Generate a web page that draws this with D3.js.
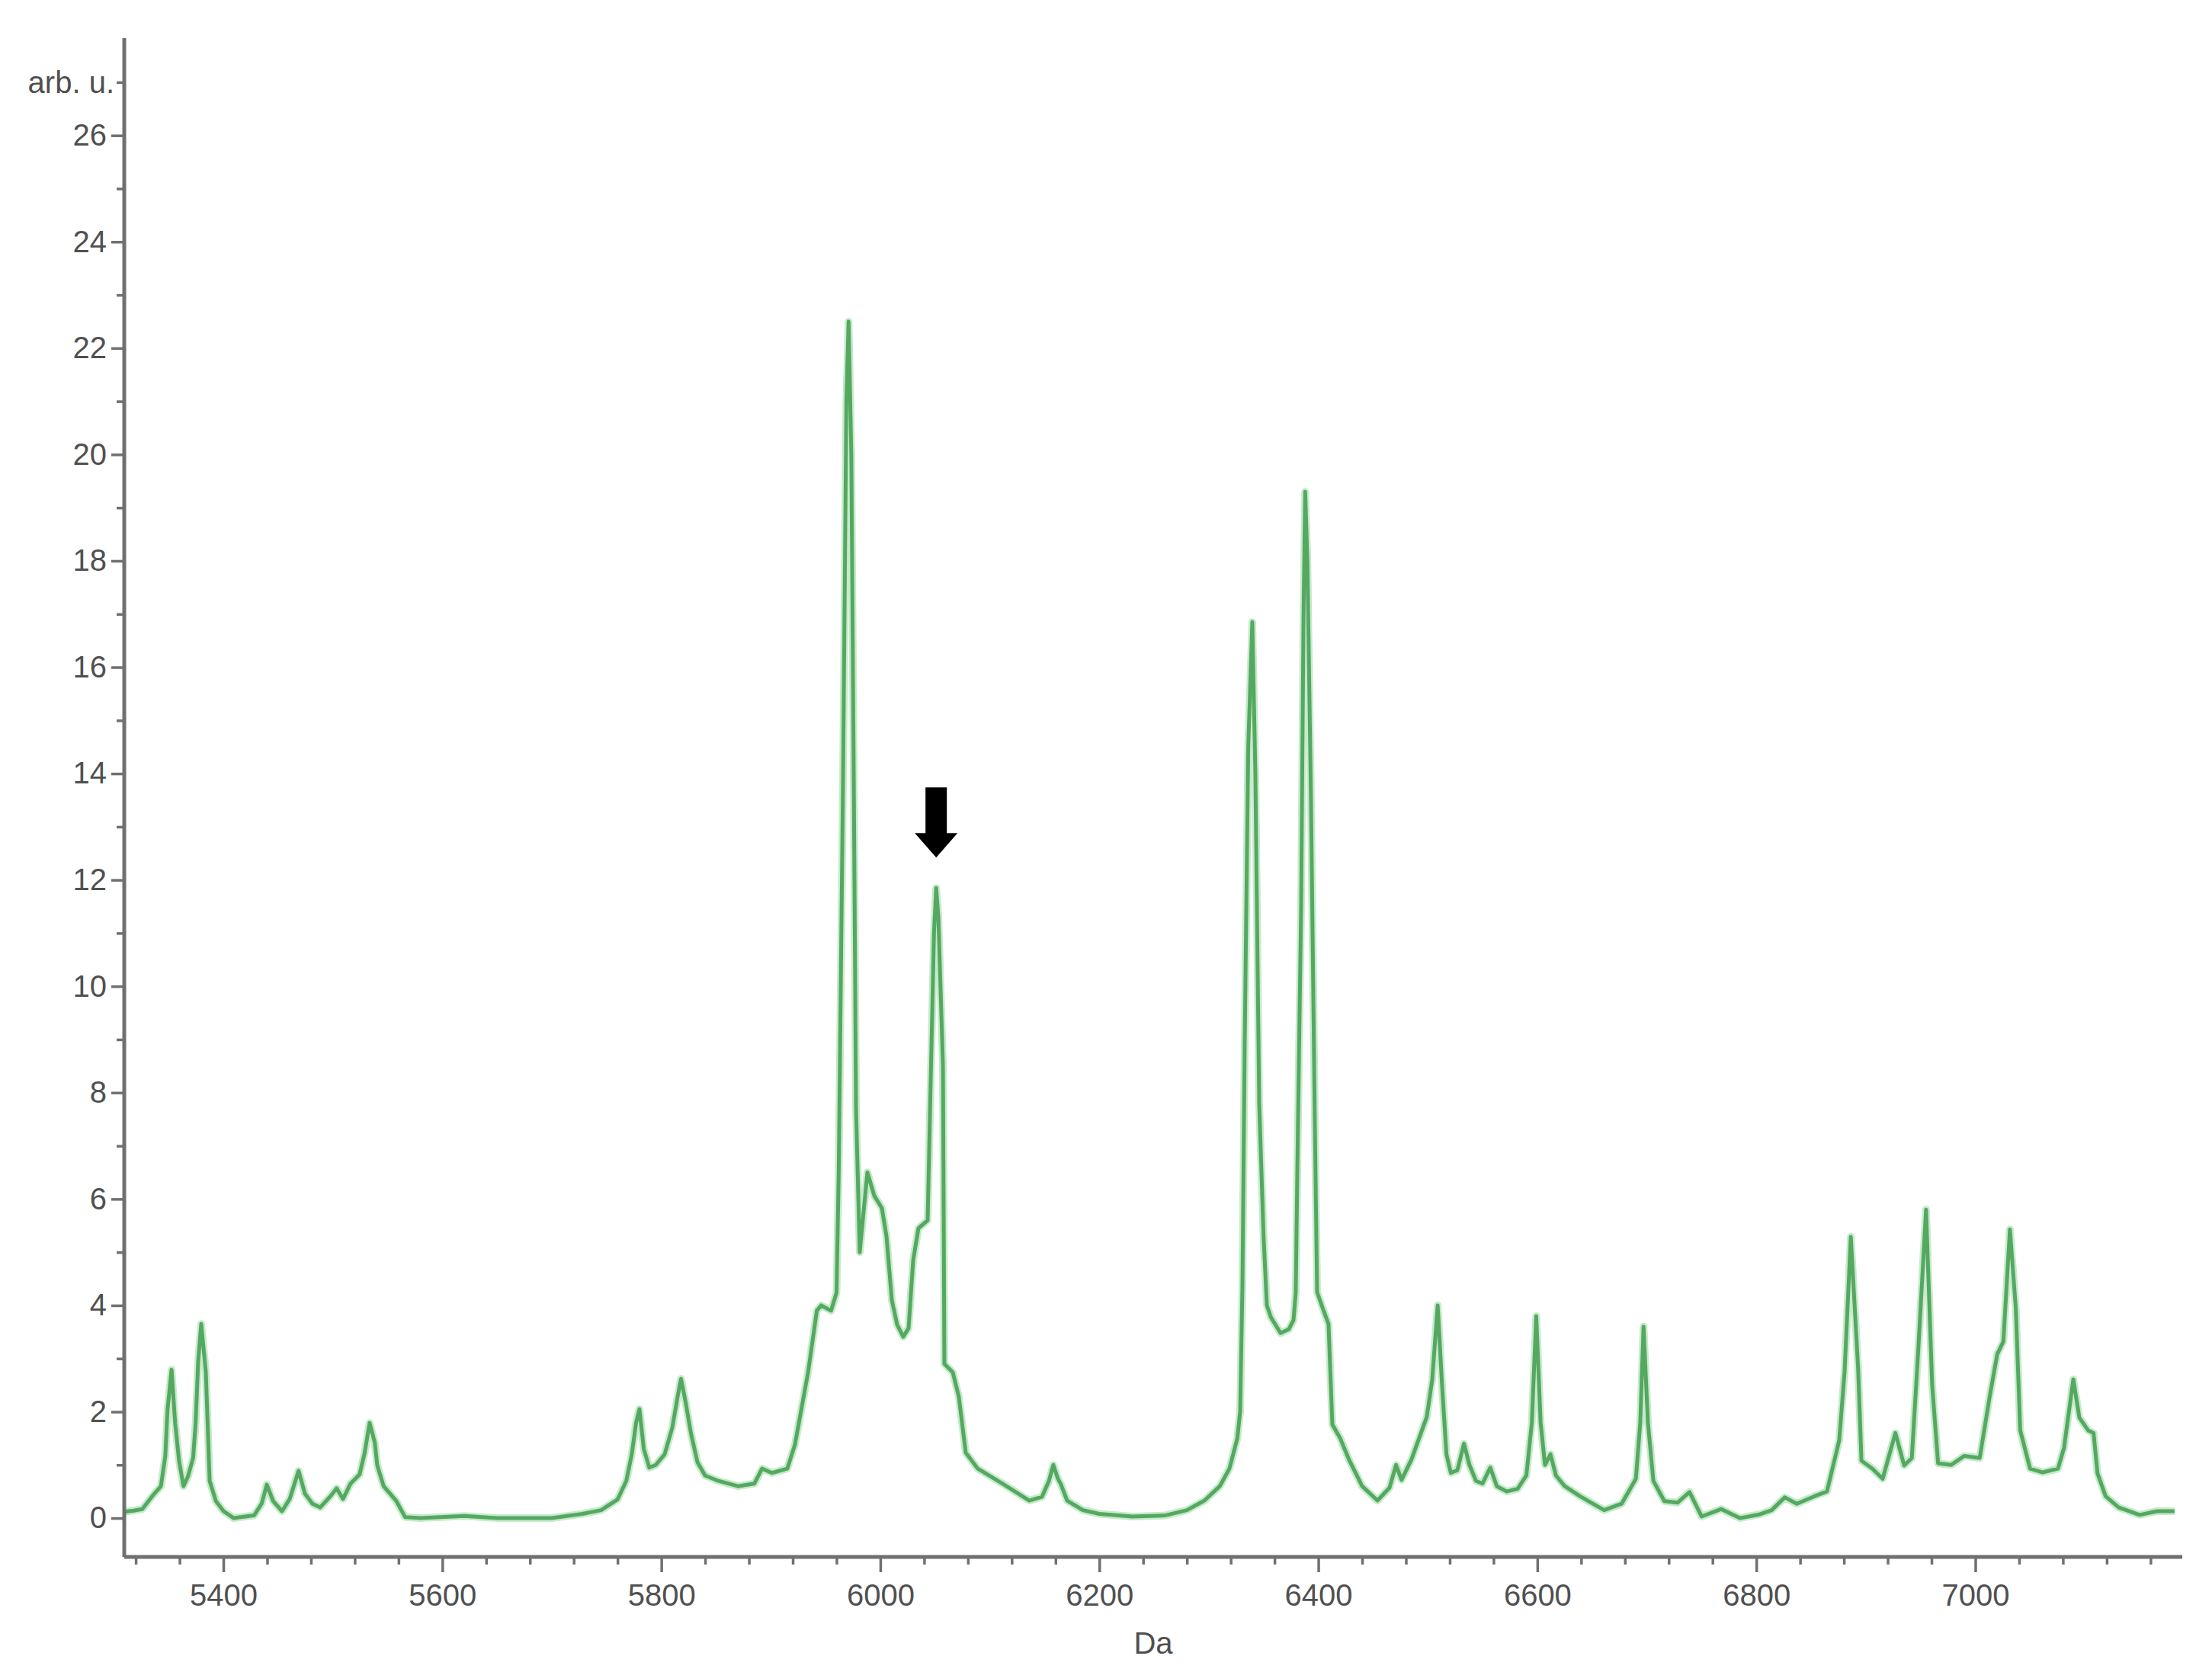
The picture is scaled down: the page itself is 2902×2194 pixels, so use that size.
<!DOCTYPE html>
<html>
<head>
<meta charset="utf-8">
<script src="https://cdn.jsdelivr.net/npm/d3@7/dist/d3.min.js"></script>
<style>
  html, body { margin: 0; padding: 0; background: #ffffff; }
  svg { display: block; }
  text { font-family: "Liberation Sans", Arial, sans-serif; }
</style>
</head>
<body>
<svg id="chart" width="2902" height="2194"></svg>
<script>
// ---- data ----
const massDa = [
  5309.5,5318,5326,5335,5343,5347,5349,5352.7,5356,5359.6,5363.6,5367.8,5372.4,5374.7,5377,5379.8,5384,5387.5,5393.2,5400.2,
  5409.5,5428,5435,5439.7,5445.5,5453.6,5460.6,5468.7,5474.5,5481.4,5488.4,5497.7,5503.5,5509.3,5516.2,5524.4,5529,5533.6,5538.3,5540.6,
  5546.4,5558,5566,5580,5620,5650,5700,5728,5745,5760,5768,5773,5777,5780,5784,5789,5795,5803,5810,5815,
  5818,5822,5827,5833,5840,5852,5870,5885,5892,5901,5915,5922,5934,5942,5946,5955,5960,5962,5966,5969,
  5971,5973.5,5975.7,5977.8,5981.2,5984.7,5988.2,5994.5,6001.4,6005.6,6010.5,6015.3,6020.9,6025.8,6030,6034.8,6043.2,6045.3,6049,6051,
  6053,6057.2,6058.5,6066.2,6071.7,6078,6089,6113,6136,6147.6,6154,6158,6162,6165,6170.6,6185,6200,6230,6260,6280,
  6296,6310,6318.8,6326,6328.6,6330.7,6332.8,6336,6339.7,6342.5,6346,6350,6353,6356.6,6365.5,6373,6377.3,6379.4,6380.8,6384.3,
  6386.5,6388,6390,6393.3,6396.8,6398.9,6403.8,6409.3,6412.8,6420,6428,6440,6454,6465,6471,6476,6485,6492,6499,6504,6509,
  6513,6517,6521,6527,6533,6538,6544,6550,6557,6563,6572,6582,6590,6595,6599,6603,6607,6612,6617,6625,
  6639,6661,6677,6690,6694,6697,6701,6706,6716,6728,6739,6750,6768,6785,6803,6814,6826,6837,6853,6864.5,
  6875.7,6880.6,6886.3,6893,6896,6906,6915.4,6927,6935,6942,6948,6955,6960.6,6966,6978,6990,7004,7013,7020,7025.6,
  7031.6,7037,7041,7050,7061.5,7075.5,7081,7089.5,7095,7103,7108,7111.6,7119,7131,7150,7166,7182
];
const intensity = [
  0.12,0.14,0.17,0.41,0.6,1.17,2.03,2.79,1.79,1.07,0.6,0.79,1.13,1.79,2.94,3.65,2.75,0.7,0.32,0.13,
  0.0,0.05,0.27,0.63,0.32,0.13,0.36,0.89,0.46,0.27,0.2,0.41,0.56,0.36,0.65,0.82,1.22,1.79,1.42,0.99,
  0.6,0.32,0.02,0.0,0.04,0.0,0.0,0.08,0.15,0.35,0.7,1.2,1.8,2.05,1.3,0.95,1.0,1.2,1.7,2.3,
  2.62,2.2,1.6,1.05,0.8,0.7,0.6,0.65,0.93,0.85,0.93,1.38,2.74,3.9,4.0,3.9,4.24,6.5,14,21,
  22.5,20,14,7.7,5.0,5.76,6.5,6.06,5.83,5.3,4.1,3.64,3.41,3.57,4.85,5.45,5.6,7.56,11.0,11.85,
  11.3,8.5,2.9,2.74,2.28,1.23,0.93,0.63,0.33,0.4,0.7,1.0,0.75,0.63,0.33,0.15,0.08,0.03,0.05,0.15,
  0.33,0.6,0.93,1.5,2.0,4.37,9.0,14.5,16.85,14,7.8,5.3,4.0,3.78,3.48,3.55,3.72,4.25,6.5,11.5,
  17,19.3,18,13.5,7.46,4.25,3.96,3.65,1.76,1.5,1.1,0.6,0.33,0.57,1.0,0.72,1.1,1.5,1.9,2.6,4.0,
  2.5,1.2,0.85,0.9,1.4,1.0,0.7,0.65,0.95,0.6,0.5,0.55,0.8,1.8,3.8,1.8,1.0,1.2,0.8,0.6,
  0.41,0.15,0.27,0.74,1.8,3.6,1.8,0.7,0.32,0.29,0.49,0.03,0.17,0.0,0.07,0.15,0.39,0.27,0.41,0.5,
  1.46,2.75,5.29,2.8,1.08,0.93,0.74,1.6,0.99,1.13,3.2,5.8,2.5,1.03,1.0,1.17,1.13,2.27,3.08,3.32,
  5.43,3.94,1.65,0.93,0.86,0.93,1.32,2.61,1.89,1.65,1.6,0.84,0.41,0.2,0.06,0.13,0.13
];
const xDomain = [5309.5, 7189];
const yDomain = [-0.73, 27.83];
const xMajorTicks = [5400, 5600, 5800, 6000, 6200, 6400, 6600, 6800, 7000];
const xMinorTicks = d3.range(5320, 7189, 40);
const yMajorTicks = [0, 2, 4, 6, 8, 10, 12, 14, 16, 18, 20, 22, 24, 26];
const yMinorTicks = d3.range(0, 28, 1);
const xLabel = "Da";
const yLabel = "arb. u.";
const arrowPeakDa = 6051;
const arrowTipValue = 12.42;

// ---- drawing ----
const svg = d3.select("#chart");
const x = d3.scaleLinear().domain(xDomain).range([163, 2863]);
const y = d3.scaleLinear().domain(yDomain).range([2043, 50]);

const axisColor = "#707070";
const textColor = "#505050";

const points = massDa.map((d, i) => [d, intensity[i]]);
const line = d3.line().x(d => x(d[0])).y(d => y(d[1]));

// spectrum: soft halo + main stroke
svg.append("path").datum(points)
  .attr("d", line).attr("fill", "none")
  .attr("stroke", "#c6ebca").attr("stroke-width", 10)
  .attr("stroke-linejoin", "round");
svg.append("path").datum(points)
  .attr("d", line).attr("fill", "none")
  .attr("stroke", "#55a862").attr("stroke-width", 5)
  .attr("stroke-linejoin", "round");

// x axis
const xAxisY = y(yDomain[0]);
const gxMinor = svg.append("g").attr("transform", `translate(0,${xAxisY})`)
  .call(d3.axisBottom(x).tickValues(xMinorTicks.filter(v => !xMajorTicks.includes(v))).tickSize(10).tickFormat(""));
const gx = svg.append("g").attr("transform", `translate(0,${xAxisY})`)
  .call(d3.axisBottom(x).tickValues(xMajorTicks).tickSize(20).tickPadding(16).tickFormat(d3.format("d")));
[gxMinor, gx].forEach(g => {
  g.select(".domain").remove();
  g.selectAll(".tick line").attr("stroke", axisColor).attr("stroke-width", 3.5);
});
gx.selectAll(".tick text").attr("fill", textColor).attr("font-size", 40)
  .attr("font-family", "'Liberation Sans', Arial, sans-serif");
svg.append("line")
  .attr("x1", x(xDomain[0])).attr("x2", x(xDomain[1]))
  .attr("y1", xAxisY).attr("y2", xAxisY)
  .attr("stroke", axisColor).attr("stroke-width", 5);

// y axis
const yAxisX = x(xDomain[0]);
const gyMinor = svg.append("g").attr("transform", `translate(${yAxisX},0)`)
  .call(d3.axisLeft(y).tickValues(yMinorTicks.filter(v => !yMajorTicks.includes(v))).tickSize(10).tickFormat(""));
const gy = svg.append("g").attr("transform", `translate(${yAxisX},0)`)
  .call(d3.axisLeft(y).tickValues(yMajorTicks).tickSize(17).tickPadding(6).tickFormat(d3.format("d")));
[gyMinor, gy].forEach(g => {
  g.select(".domain").remove();
  g.selectAll(".tick line").attr("stroke", axisColor).attr("stroke-width", 3.5);
});
gy.selectAll(".tick text").attr("fill", textColor).attr("font-size", 40)
  .attr("font-family", "'Liberation Sans', Arial, sans-serif");
svg.append("line")
  .attr("x1", yAxisX).attr("x2", yAxisX)
  .attr("y1", y(yDomain[0])).attr("y2", y(yDomain[1]))
  .attr("stroke", axisColor).attr("stroke-width", 5);

// axis labels
svg.append("text").text(yLabel)
  .attr("x", 150).attr("y", y(27)).attr("dy", "0.35em")
  .attr("text-anchor", "end").attr("font-size", 40).attr("fill", textColor);
svg.append("text").text(xLabel)
  .attr("x", (x(xDomain[0]) + x(xDomain[1])) / 2).attr("y", 2170)
  .attr("text-anchor", "middle").attr("font-size", 40).attr("fill", textColor);

// arrow annotation
const ax = x(arrowPeakDa), ay = y(arrowTipValue);
const arrowPts = [
  [ax - 14, ay - 92], [ax + 14, ay - 92], [ax + 14, ay - 32], [ax + 28, ay - 32],
  [ax, ay], [ax - 28, ay - 32], [ax - 14, ay - 32]
];
svg.append("polygon")
  .attr("points", arrowPts.map(p => p.join(",")).join(" "))
  .attr("fill", "#000000");
</script>
</body>
</html>
